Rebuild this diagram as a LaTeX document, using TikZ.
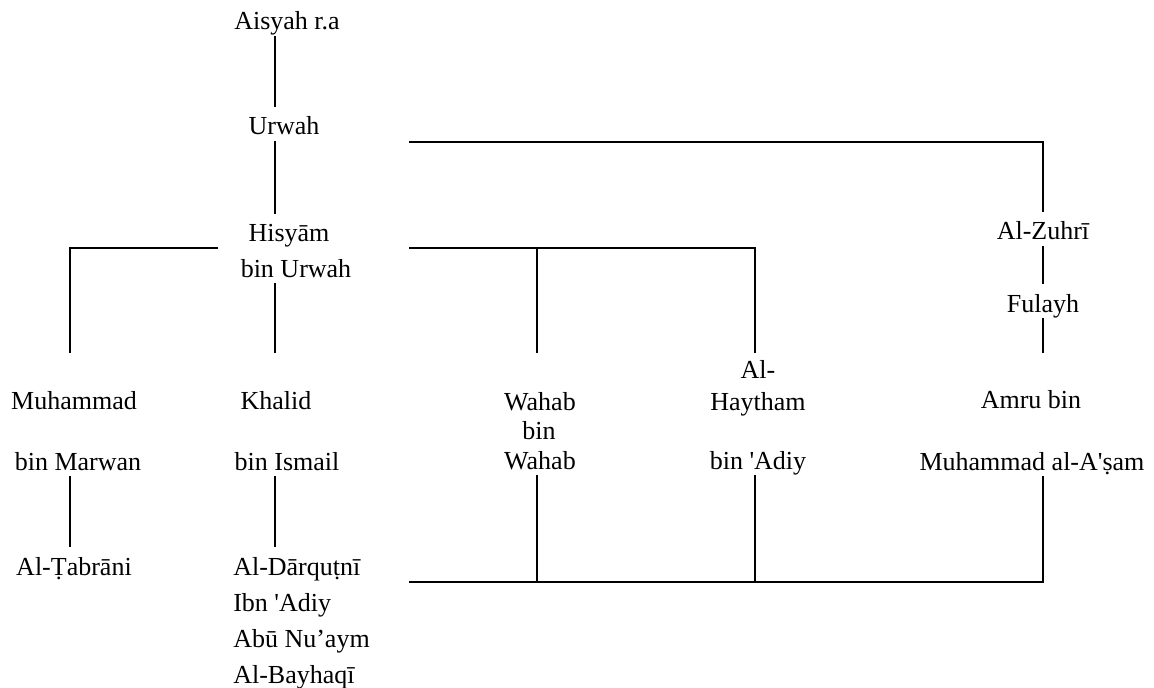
\documentclass[tikz,border=0pt]{standalone}
\usepackage{fontspec}
\setmainfont{Liberation Serif}[Ligatures=TeXOff]
\usetikzlibrary{positioning}

\tikzset{
  narrator/.style={font=\fontsize{19.5}{23}\selectfont, inner sep=0pt, text height=21pt, text depth=4.5pt, anchor=base},
  isnad/.style={line width=1.4pt, black}
}

\begin{document}
\begin{tikzpicture}[x=0.75pt,y=0.75pt,yscale=-1,xscale=1]
\useasboundingbox (0,0) rectangle (1154,688);

%columns and rows of the chains
\coordinate (c1) at (70,0);
\coordinate (c2) at (275,0);
\coordinate (c3) at (537,0);
\coordinate (c4) at (755,0);
\coordinate (c5) at (1043,0);
\coordinate (top3) at (0,353);
\coordinate (ut) at (409,142);
\coordinate (hl) at (218,248);
\coordinate (hr) at (409,248);
\coordinate (bl) at (409,582);

% Text Node
\node[narrator] (aisyah) at (287,30) {Aisyah r.a};
% Text Node
\node[narrator] (urwah) at (284,135) {Urwah};
% Text Node
\node[narrator] (hisyam) at (289,242) {Hisyām};
\node[narrator] (binurwah) at (296,277) {bin Urwah};
% Text Node
\node[narrator] (zuhri) at (1043,240) {Al-Zuhrī};
% Text Node
\node[narrator] (fulayh) at (1043,312) {Fulayh};

% Text Node
\node[narrator] (muhammad) at (74,409) {Muhammad};
\node[narrator] (binmarwan) at (78,470) {bin Marwan};
% Text Node
\node[narrator] (khalid) at (276,409) {Khalid};
\node[narrator] (binismail) at (287,470) {bin Ismail};
% Text Node
\node[narrator] (wahab) at (540,410) {Wahab};
\node[narrator] (wahabbin) at (539,439) {bin};
\node[narrator] (wahabwahab) at (540,469) {Wahab};
% Text Node
\node[narrator] (alh) at (758,378) {Al-};
\node[narrator] (haytham) at (758,410) {Haytham};
\node[narrator] (binadiy) at (758,469) {bin 'Adiy};
% Text Node
\node[narrator] (amru) at (1031,408) {Amru bin};
\node[narrator] (asam) at (1032,470) {Muhammad al-A'ṣam};

% Text Node
\node[narrator] (tabrani) at (74,575) {Al-Ṭabrāni};
% Text Node
\node[narrator, anchor=base west] (darqutni) at (233,575) {Al-Dārquṭnī};
\node[narrator, anchor=base west] (ibnadiy) at (233,611) {Ibn 'Adiy};
\node[narrator, anchor=base west] (abunuaym) at (233,647) {Abū Nu’aym};
\node[narrator, anchor=base west] (bayhaqi) at (233,683) {Al-Bayhaqī};

%Straight Lines
\draw[isnad] (aisyah.south -| c2) -- (urwah.north -| c2);
\draw[isnad] (urwah.south -| c2) -- (hisyam.north -| c2);
%Straight Lines
\draw[isnad] (ut) -| (zuhri.north -| c5);
\draw[isnad] (zuhri.south -| c5) -- (fulayh.north -| c5);
\draw[isnad] (fulayh.south -| c5) -- (c5 |- top3);
%Straight Lines
\draw[isnad] (hl) -| (c1 |- top3);
\draw[isnad] (binurwah.south -| c2) -- (c2 |- top3);
\draw[isnad] (hr) -| (c4 |- top3);
\draw[isnad] (c3 |- hr) -- (c3 |- top3);
%Straight Lines
\draw[isnad] (binmarwan.south -| c1) -- (tabrani.north -| c1);
\draw[isnad] (binismail.south -| c2) -- (darqutni.north -| c2);
%Straight Lines
\draw[isnad] (bl) -| (asam.south -| c5);
\draw[isnad] (wahabwahab.south -| c3) -- (c3 |- bl);
\draw[isnad] (binadiy.south -| c4) -- (c4 |- bl);

\end{tikzpicture}
\end{document}
